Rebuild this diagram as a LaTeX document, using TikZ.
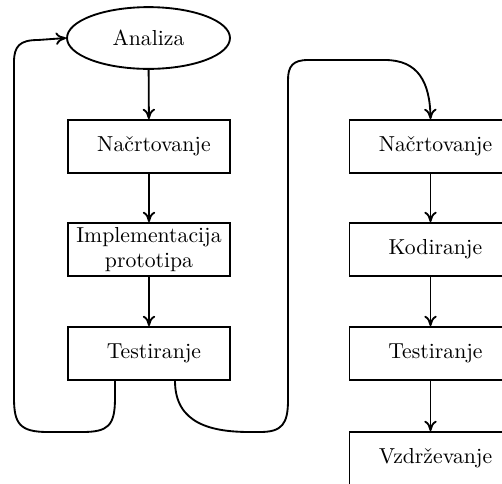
\documentclass[tikz,border=0pt]{standalone}
\usetikzlibrary{arrows.meta,shapes.geometric}
\begin{document}
\begin{tikzpicture}[x=0.017cm,y=-0.017cm,
  every node/.style={font=\fontsize{10.5pt}{12pt}\selectfont},
  stage/.style={draw,line width=0.9pt,minimum width=2.754cm,minimum height=0.901cm,
    align=center,inner sep=1pt},
  lead/.style={execute at begin node={\hspace*{4.8pt}}},
  start/.style={draw,ellipse,line width=0.9pt,minimum width=2.77cm,minimum height=1.05cm,
    inner sep=1pt},
  flow/.style={line width=0.9pt,-{To[length=5pt,width=6pt]}}]
\useasboundingbox (0,0) rectangle (502,483);
\clip (0,0) rectangle (502,483);

% prototype cycle
\node[start] (an) at (148.5,38) {Analiza};
\node[stage,lead] (ln) at (149,146.5) {Na\v{c}rtovanje};
\node[stage] (li) at (149,249.5) {Implementacija\\prototipa};
\node[stage,lead] (lt) at (149,353.5) {Testiranje};

% final development
\node[stage,lead] (rn) at (430.5,146.5) {Na\v{c}rtovanje};
\node[stage,lead] (rk) at (430.5,249.5) {Kodiranje};
\node[stage,lead] (rt) at (430.5,353.5) {Testiranje};
\node[stage,lead] (rv) at (430.5,458.5) {Vzdr\v{z}evanje};

\draw[flow] (an) -- (ln);
\draw[flow] (ln) -- (li);
\draw[flow] (li) -- (lt);
\draw[flow] (rn) -- (rk);
\draw[flow] (rk) -- (rt);
\draw[flow] (rt) -- (rv);

% back to the analysis
\draw[flow] ([xshift=-34*0.017cm]lt.south) -- (115,398)
  .. controls (115,426) and (108,432) .. (82,432) -- (48,432)
  .. controls (20,432) and (14,424) .. (14,398) -- (14,62)
  .. controls (14,46) and (20,40) .. (38,40) -- (an.west);

% on to the final development
\draw[flow] ([xshift=26*0.017cm]lt.south)
  .. controls (175,424) and (212,432) .. (250,432) -- (260,432)
  .. controls (282,432) and (288,424) .. (288,400) -- (288,80)
  .. controls (288,66) and (293,60) .. (308,60) -- (385,60)
  .. controls (418,60) and (430,82) .. (rn.north);
\end{tikzpicture}
\end{document}
